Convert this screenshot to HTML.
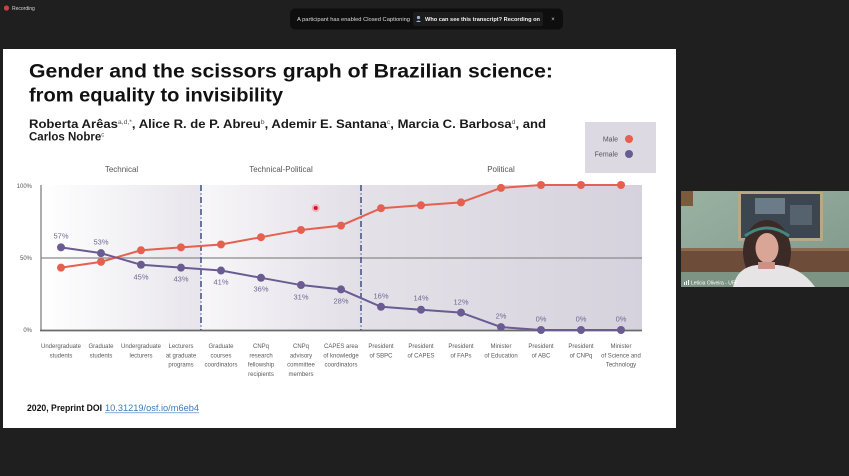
<!DOCTYPE html>
<html><head><meta charset="utf-8"><style>
html,body{margin:0;padding:0;background:#1f1f1f;}
svg{display:block;}
text{font-family:"Liberation Sans",Arial,sans-serif;}
</style></head><body>
<svg width="849" height="476" viewBox="0 0 849 476" xmlns="http://www.w3.org/2000/svg">
<defs>
<linearGradient id="g1" x1="0" x2="1" y1="0" y2="0"><stop offset="0" stop-color="#ffffff"/><stop offset="1" stop-color="#e7e5eb"/></linearGradient>
<linearGradient id="g2" x1="0" x2="1" y1="0" y2="0"><stop offset="0" stop-color="#f7f6f8"/><stop offset="1" stop-color="#e2dfe7"/></linearGradient>
<linearGradient id="g3" x1="0" x2="1" y1="0" y2="0"><stop offset="0" stop-color="#e4e1e8"/><stop offset="1" stop-color="#d6d2dd"/></linearGradient>
<linearGradient id="wall" x1="0" x2="1" y1="0" y2="1"><stop offset="0" stop-color="#9ab2a2"/><stop offset="1" stop-color="#7f978a"/></linearGradient>
</defs>
<rect width="849" height="476" fill="#1f1f1f"/>

<!-- top bar -->
<circle cx="6.5" cy="8" r="2.6" fill="#c8433a"/>
<text x="12" y="9.8" font-size="5" fill="#d8d8d8">Recording</text>
<rect x="290" y="8.5" width="273" height="21" rx="5" fill="#0e0e0e"/>
<rect x="413" y="12" width="130" height="14" rx="2" fill="#1c1c1c"/>
<text x="297" y="20.8" font-size="5.4" fill="#dcdcdc" textLength="113" lengthAdjust="spacingAndGlyphs">A participant has enabled Closed Captioning</text>
<circle cx="418.5" cy="17.5" r="1.6" fill="#9fb6d8"/>
<path d="M416 22 q2.5 -3 5 0 z" fill="#9fb6d8"/>
<text x="425" y="20.8" font-size="5.4" font-weight="bold" fill="#f2f2f2" textLength="115" lengthAdjust="spacingAndGlyphs">Who can see this transcript? Recording on</text>
<text x="553" y="21" font-size="6" fill="#cfcfcf" text-anchor="middle">×</text>

<!-- slide -->
<rect x="3" y="49" width="673" height="379" fill="#ffffff"/>

<text x="29" y="77.5" font-size="19" font-weight="bold" fill="#111" textLength="524" lengthAdjust="spacingAndGlyphs">Gender and the scissors graph of Brazilian science:</text>
<text x="29" y="101.5" font-size="19" font-weight="bold" fill="#111" textLength="254" lengthAdjust="spacingAndGlyphs">from equality to invisibility</text>

<text x="29" y="128" font-size="11.5" font-weight="bold" fill="#1a1a1a" textLength="517" lengthAdjust="spacingAndGlyphs">Roberta Arêas<tspan font-size="6" font-weight="normal" fill="#555" dy="-4">a,d,*</tspan><tspan dy="4">, Alice R. de P. Abreu</tspan><tspan font-size="6" font-weight="normal" fill="#555" dy="-4">b</tspan><tspan dy="4">, Ademir E. Santana</tspan><tspan font-size="6" font-weight="normal" fill="#555" dy="-4">c</tspan><tspan dy="4">, Marcia C. Barbosa</tspan><tspan font-size="6" font-weight="normal" fill="#555" dy="-4">d</tspan><tspan dy="4">, and</tspan></text>
<text x="29" y="140.5" font-size="11.5" font-weight="bold" fill="#1a1a1a">Carlos Nobre<tspan font-size="6" font-weight="normal" fill="#555" dy="-4">c</tspan></text>

<!-- legend -->
<rect x="585" y="122" width="71" height="51" fill="#dcd9e2"/>
<text x="618" y="141.5" font-size="7" fill="#555" text-anchor="end">Male</text>
<circle cx="629" cy="139" r="4" fill="#e5604f"/>
<text x="618" y="156.5" font-size="7" fill="#555" text-anchor="end">Female</text>
<circle cx="629" cy="154" r="4" fill="#6a5c93"/>

<!-- section headings -->
<text x="121.5" y="172" font-size="8" fill="#555" text-anchor="middle">Technical</text>
<text x="281" y="172" font-size="8" fill="#555" text-anchor="middle">Technical-Political</text>
<text x="501" y="172" font-size="8" fill="#555" text-anchor="middle">Political</text>

<!-- plot background -->
<rect x="41" y="185" width="160" height="145" fill="url(#g1)"/>
<rect x="201" y="185" width="160" height="145" fill="url(#g2)"/>
<rect x="361" y="185" width="281" height="145" fill="url(#g3)"/>

<!-- axes -->
<line x1="41" y1="185" x2="41" y2="330" stroke="#8a8a8a" stroke-width="1.4"/>
<line x1="41" y1="258" x2="642" y2="258" stroke="#8a8a8a" stroke-width="1.2"/>
<line x1="40" y1="330.5" x2="642" y2="330.5" stroke="#6a6a6a" stroke-width="1.8"/>
<line x1="201" y1="185" x2="201" y2="330" stroke="#3e4f80" stroke-width="1.5" stroke-dasharray="6 2.5 1 2.5"/>
<line x1="361" y1="185" x2="361" y2="330" stroke="#3e4f80" stroke-width="1.5" stroke-dasharray="6 2.5 1 2.5"/>

<g font-size="6" fill="#555" text-anchor="end">
<text x="32" y="188">100%</text>
<text x="32" y="260">50%</text>
<text x="32" y="332">0%</text>
</g>

<!-- male series -->
<polyline fill="none" stroke="#e5604f" stroke-width="2" points="61,267.65 101,261.85 141,250.25 181,247.35 221,244.45 261,237.2 301,229.95 341,225.6 381,208.2 421,205.3 461,202.4 501,187.9 541,185 581,185 621,185"/>
<g fill="#e5604f">
<circle cx="61" cy="267.65" r="4"/><circle cx="101" cy="261.85" r="4"/><circle cx="141" cy="250.25" r="4"/><circle cx="181" cy="247.35" r="4"/><circle cx="221" cy="244.45" r="4"/><circle cx="261" cy="237.2" r="4"/><circle cx="301" cy="229.95" r="4"/><circle cx="341" cy="225.6" r="4"/><circle cx="381" cy="208.2" r="4"/><circle cx="421" cy="205.3" r="4"/><circle cx="461" cy="202.4" r="4"/><circle cx="501" cy="187.9" r="4"/><circle cx="541" cy="185" r="4"/><circle cx="581" cy="185" r="4"/><circle cx="621" cy="185" r="4"/>
</g>

<!-- female series -->
<polyline fill="none" stroke="#6a5c93" stroke-width="2" points="61,247.35 101,253.15 141,264.75 181,267.65 221,270.55 261,277.8 301,285.05 341,289.4 381,306.8 421,309.7 461,312.6 501,327.1 541,330 581,330 621,330"/>
<g fill="#6a5c93">
<circle cx="61" cy="247.35" r="4"/><circle cx="101" cy="253.15" r="4"/><circle cx="141" cy="264.75" r="4"/><circle cx="181" cy="267.65" r="4"/><circle cx="221" cy="270.55" r="4"/><circle cx="261" cy="277.8" r="4"/><circle cx="301" cy="285.05" r="4"/><circle cx="341" cy="289.4" r="4"/><circle cx="381" cy="306.8" r="4"/><circle cx="421" cy="309.7" r="4"/><circle cx="461" cy="312.6" r="4"/><circle cx="501" cy="327.1" r="4"/><circle cx="541" cy="330" r="4"/><circle cx="581" cy="330" r="4"/><circle cx="621" cy="330" r="4"/>
</g>

<g font-size="7.5" fill="#6e6794" text-anchor="middle">
<text x="61" y="238.7">57%</text>
<text x="101" y="244.7">53%</text>
<text x="141" y="279.7">45%</text>
<text x="181" y="281.7">43%</text>
<text x="221" y="284.7">41%</text>
<text x="261" y="291.7">36%</text>
<text x="301" y="299.7">31%</text>
<text x="341" y="303.7">28%</text>
<text x="381" y="298.7">16%</text>
<text x="421" y="300.7">14%</text>
<text x="461" y="304.7">12%</text>
<text x="501" y="318.7">2%</text>
<text x="541" y="321.7">0%</text>
<text x="581" y="321.7">0%</text>
<text x="621" y="321.7">0%</text>
</g>

<!-- pointer -->
<circle cx="315.7" cy="208" r="4" fill="#f3b3ba"/>
<circle cx="315.7" cy="208" r="2" fill="#d3142e"/>

<!-- category labels -->
<g font-size="6" fill="#5a5a5a" text-anchor="middle">
<text x="61" y="348">Undergraduate</text><text x="61" y="357.3">students</text>
<text x="101" y="348">Graduate</text><text x="101" y="357.3">students</text>
<text x="141" y="348">Undergraduate</text><text x="141" y="357.3">lecturers</text>
<text x="181" y="348">Lecturers</text><text x="181" y="357.3">at graduate</text><text x="181" y="366.6">programs</text>
<text x="221" y="348">Graduate</text><text x="221" y="357.3">courses</text><text x="221" y="366.6">coordinators</text>
<text x="261" y="348">CNPq</text><text x="261" y="357.3">research</text><text x="261" y="366.6">fellowship</text><text x="261" y="375.9">recipients</text>
<text x="301" y="348">CNPq</text><text x="301" y="357.3">advisory</text><text x="301" y="366.6">committee</text><text x="301" y="375.9">members</text>
<text x="341" y="348">CAPES area</text><text x="341" y="357.3">of knowledge</text><text x="341" y="366.6">coordinators</text>
<text x="381" y="348">President</text><text x="381" y="357.3">of SBPC</text>
<text x="421" y="348">President</text><text x="421" y="357.3">of CAPES</text>
<text x="461" y="348">President</text><text x="461" y="357.3">of FAPs</text>
<text x="501" y="348">Minister</text><text x="501" y="357.3">of Education</text>
<text x="541" y="348">President</text><text x="541" y="357.3">of ABC</text>
<text x="581" y="348">President</text><text x="581" y="357.3">of CNPq</text>
<text x="621" y="348">Minister</text><text x="621" y="357.3">of Science and</text><text x="621" y="366.6">Technology</text>
</g>

<!-- footer -->
<text x="27" y="411" font-size="9.5" font-weight="bold" fill="#111" textLength="75" lengthAdjust="spacingAndGlyphs">2020, Preprint DOI</text>
<text x="105" y="411" font-size="9.5" fill="#3b7bbf" textLength="94" lengthAdjust="spacingAndGlyphs">10.31219/osf.io/m6eb4</text>
<line x1="105" y1="412.8" x2="199" y2="412.8" stroke="#3b7bbf" stroke-width="0.7"/>

<!-- video tile -->
<rect x="681" y="191" width="168" height="96" fill="url(#wall)"/>
<rect x="681" y="191" width="12" height="15" fill="#7a5c3c"/>
<rect x="738" y="192" width="85" height="49" fill="#b7a888"/>
<rect x="741" y="194" width="79" height="44" fill="#3c4651"/>
<rect x="755" y="198" width="30" height="16" fill="#6c7b88"/>
<rect x="790" y="205" width="22" height="20" fill="#56636f"/>
<rect x="681" y="248" width="168" height="24" fill="#6d4c3a"/>
<rect x="681" y="248" width="168" height="3" fill="#8b6a52"/>
<rect x="681" y="272" width="168" height="15" fill="#7d9383"/>
<ellipse cx="767" cy="252" rx="24" ry="32" fill="#3b2a25"/>
<path d="M745 236 q22 -16 44 0" fill="none" stroke="#3f8a80" stroke-width="3"/>
<ellipse cx="767" cy="248" rx="11.5" ry="15" fill="#d8a597"/>
<path d="M733 287 q4 -20 24 -22 l20 0 q24 2 38 22 z" fill="#e6e4e4"/>
<rect x="758" y="262" width="17" height="7" fill="#c99284"/>
<g fill="#ffffff"><rect x="684" y="282" width="1" height="3"/><rect x="686" y="281" width="1" height="4"/><rect x="688" y="280" width="1" height="5"/></g>
<text x="691" y="284.5" font-size="5" fill="#ffffff">Leticia Oliveira - UFF</text>
</svg>
</body></html>
